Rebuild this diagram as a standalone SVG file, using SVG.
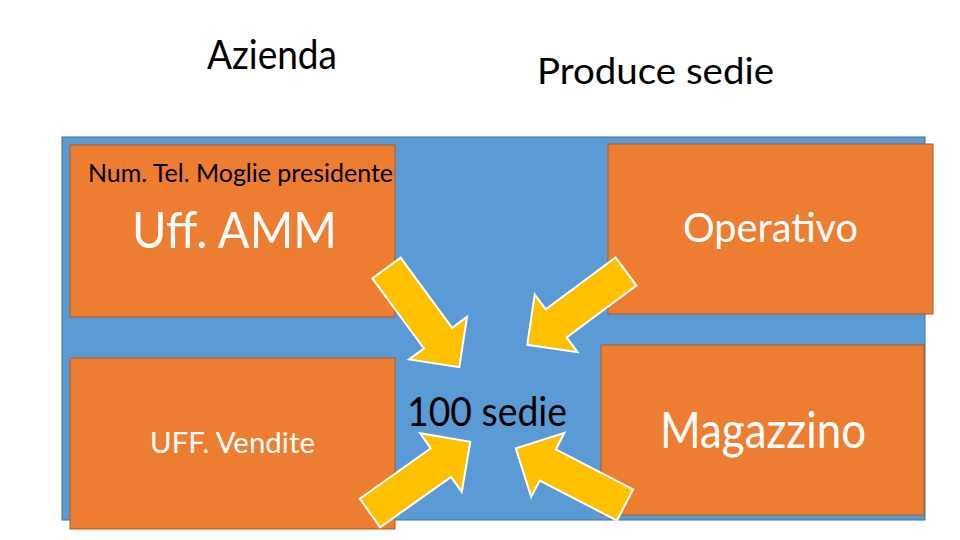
<svg xmlns="http://www.w3.org/2000/svg" xmlns:xlink="http://www.w3.org/1999/xlink" width="960" height="540" viewBox="0 0 960 540">
  <style>
    text { font-family: Lato, "Open Sans", "Liberation Sans", sans-serif; }
    .dark { fill: #000000; }
    .light { fill: #FFFFFF; }
    .box { fill: #ED7D31; stroke: #AE5A21; stroke-width: 1; }
    .frame { fill: #5B9BD5; stroke: #41719C; stroke-width: 1; }
    .arrow { fill: #FFC000; stroke: #FFFFFF; stroke-width: 2; stroke-linejoin: miter; }
  </style>
  <defs>
    <path id="blockArrow" class="arrow" d="M0,-17.5 L87,-17.5 L87,-36 L123,0 L87,36 L87,17.5 L0,17.5 Z"/>
  </defs>
  <rect width="960" height="540" fill="#FFFFFF"/>

  <g id="title-azienda">
    <text class="dark" x="207" y="69" font-size="40" textLength="130" lengthAdjust="spacingAndGlyphs">Azienda</text>
  </g>
  <g id="title-produce">
    <text class="dark" x="537" y="84" font-size="37" textLength="237" lengthAdjust="spacingAndGlyphs">Produce sedie</text>
  </g>

  <g id="azienda-frame">
    <rect class="frame" x="62" y="137" width="863" height="383"/>
  </g>

  <g id="node-uff-amm">
    <rect class="box" x="70" y="145" width="325" height="172"/>
    <text class="dark" x="88" y="182" font-size="25" textLength="305" lengthAdjust="spacingAndGlyphs">Num. Tel. Moglie presidente</text>
    <text class="light" x="132" y="248" font-size="51" textLength="205" lengthAdjust="spacingAndGlyphs">Uff. AMM</text>
  </g>

  <g id="node-operativo">
    <rect class="box" x="608" y="144" width="325" height="170"/>
    <text class="light" x="683" y="242" font-size="40" textLength="175" lengthAdjust="spacingAndGlyphs">Operativo</text>
  </g>

  <g id="node-vendite">
    <rect class="box" x="70" y="358" width="325" height="171"/>
    <text class="light" x="150" y="453" font-size="29" textLength="165" lengthAdjust="spacingAndGlyphs">UFF. Vendite</text>
  </g>

  <g id="node-magazzino">
    <rect class="box" x="601" y="345" width="323" height="170"/>
    <text class="light" x="660" y="448" font-size="50" textLength="206" lengthAdjust="spacingAndGlyphs">Magazzino</text>
  </g>

  <g id="node-sedie">
    <text class="dark" x="407" y="426" font-size="40" textLength="160" lengthAdjust="spacingAndGlyphs">100 sedie</text>
  </g>

  <g id="connectors">
    <use xlink:href="#blockArrow" href="#blockArrow" transform="translate(386.5,268) rotate(53.7)"/>
    <use xlink:href="#blockArrow" href="#blockArrow" transform="translate(626,271.5) rotate(143.4)"/>
    <use xlink:href="#blockArrow" href="#blockArrow" transform="translate(370,513) rotate(-35.4)"/>
    <use xlink:href="#blockArrow" href="#blockArrow" transform="translate(625,505) rotate(-152.6)"/>
  </g>
</svg>
